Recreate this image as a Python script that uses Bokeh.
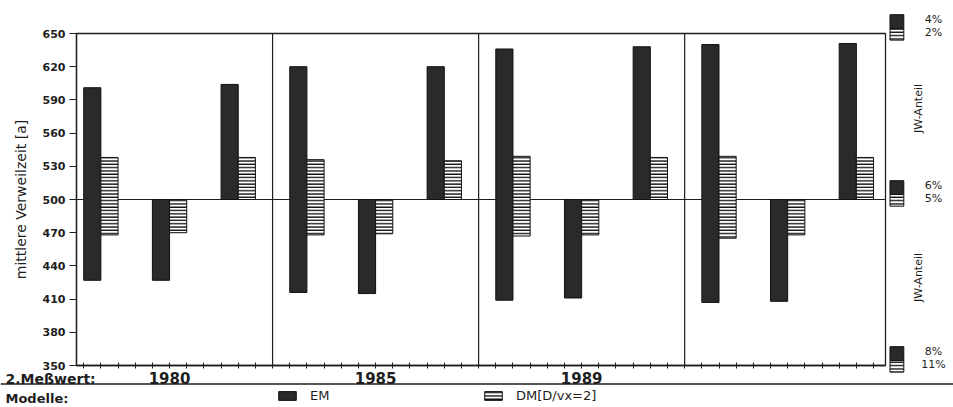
import math

from bokeh.plotting import figure
from bokeh.models import (ColumnDataSource, Range1d, FixedTicker, Span,
                          BoxAnnotation, Legend, LegendItem)
from bokeh.core.properties import value
from bokeh.embed import file_html
from bokeh.resources import INLINE

# Messzeitpunkte (Felder von links nach rechts); das letzte Feld bleibt unbeschriftet
years = ["1980", "1985", "1989"]

# Gruppe 1: Spanne je Modell (unteres / oberes Ende)
em_span_low = [427, 416, 409, 407]
em_span_high = [601, 620, 636, 640]
dm_span_low = [468, 468, 467, 465]
dm_span_high = [538, 536, 539, 539]

# Gruppe 2: Abweichung nach unten vom Bezugswert
em_low = [427, 415, 411, 408]
dm_low = [470, 469, 468, 468]

# Gruppe 3: Abweichung nach oben vom Bezugswert
em_high = [604, 620, 638, 641]
dm_high = [538, 535, 538, 538]

baseline = 500
y_ticks = [350, 380, 410, 440, 470, 500, 530, 560, 590, 620, 650]

# JW-Anteil je Niveau (EM / DM)
jw_levels = [650, 500, 350]
jw_em = ["4%", "6%", "8%"]
jw_dm = ["2%", "5%", "11%"]

# ---- Geometrie: Zeichenfläche = ganzes Bild, Achsen fest verankert -----
W, H = 953, 407
LEFT, RIGHT, TOP, BOTTOM = 76, 885, 33, 365   # Diagrammrahmen in Pixeln
PANEL = 12                                     # Feldbreite in Balkenbreiten
UNIT_PX = 17.17
X0 = 0.58
X1 = X0 + (RIGHT - LEFT) / UNIT_PX
Y0, Y1 = 350, 650
Y_PX = (BOTTOM - TOP) / (Y1 - Y0)

def px_x(px):
    return X0 + (px - LEFT) / UNIT_PX

def px_y(py):
    return Y1 - (py - TOP) / Y_PX

FONT = "DejaVu Sans"
INK = "#1e1e1e"
EM_FILL = "#2a2a2a"

p = figure(width=W, height=H, output_backend="svg", toolbar_location=None,
           x_range=Range1d(px_x(0), px_x(W)), y_range=Range1d(px_y(H), px_y(0)),
           min_border=0, min_border_left=0, min_border_right=0,
           min_border_top=0, min_border_bottom=0)
p.grid.visible = False
p.background_fill_color = "white"
p.border_fill_color = "white"
p.outline_line_color = None

# ---- Bezugslinie und Feldtrenner --------------------------------------
p.segment(x0=[X0], y0=[baseline], x1=[X1], y1=[baseline],
          line_color=INK, line_width=1.1)
dividers = [PANEL * k for k in range(1, 4)]
p.segment(x0=dividers, y0=[Y0] * 3, x1=dividers, y1=[Y1] * 3,
          line_color=INK, line_width=1.2)

# ---- Balken ------------------------------------------------------------
em_x, em_top, em_bot = [], [], []
dm_x, dm_top, dm_bot = [], [], []
for i in range(4):
    base = PANEL * i
    groups = [
        (1, em_span_high[i], em_span_low[i], dm_span_high[i], dm_span_low[i]),
        (5, baseline, em_low[i], baseline, dm_low[i]),
        (9, em_high[i], baseline, dm_high[i], baseline),
    ]
    for off, et, eb, dt, db in groups:
        em_x.append(base + off + 0.5)
        em_top.append(et)
        em_bot.append(eb)
        dm_x.append(base + off + 1.5)
        dm_top.append(dt)
        dm_bot.append(db)

em_src = ColumnDataSource(dict(x=em_x, top=em_top, bottom=em_bot))
dm_src = ColumnDataSource(dict(x=dm_x, top=dm_top, bottom=dm_bot))

hatch = dict(hatch_pattern="-", hatch_color="#111111", hatch_scale=3.3,
             hatch_weight=1.4)

em_r = p.vbar(x="x", top="top", bottom="bottom", width=1.0, source=em_src,
              fill_color=EM_FILL, line_color="#111111", line_width=1)
dm_r = p.vbar(x="x", top="top", bottom="bottom", width=1.0, source=dm_src,
              fill_color="white", line_color="#111111", line_width=1, **hatch)

# Rahmen (oben/rechts)
p.add_layout(BoxAnnotation(left=X0, right=X1, bottom=Y0, top=Y1,
                           fill_alpha=0, line_color=INK, line_alpha=1,
                           line_width=1.3))

# ---- Achsen ------------------------------------------------------------
ya = p.yaxis[0]
ya.fixed_location = X0
ya.bounds = (Y0, Y1)
ya.ticker = FixedTicker(ticks=y_ticks)
ya.minor_tick_line_color = None
ya.major_tick_in = 0
ya.major_tick_out = 7
ya.axis_line_width = 1.3
ya.axis_line_color = INK
ya.major_tick_line_color = INK
ya.major_label_text_font = FONT
ya.major_label_text_font_size = "11px"
ya.major_label_text_font_style = "bold"
ya.major_label_text_color = INK
ya.major_label_standoff = 4
ya.axis_label = "mittlere Verweilzeit [a]"
ya.axis_label_text_font = FONT
ya.axis_label_text_font_size = "14px"
ya.axis_label_text_font_style = "normal"
ya.axis_label_text_color = INK
ya.axis_label_standoff = 11

x_ticks = list(range(1, PANEL * 4))
overrides = {t: "" for t in x_ticks}
for i, yr in enumerate(years):
    overrides[PANEL * i + 6] = yr
xa = p.xaxis[0]
xa.fixed_location = Y0
xa.bounds = (X0, X1)
xa.ticker = FixedTicker(ticks=x_ticks)
xa.major_label_overrides = overrides
xa.minor_tick_line_color = None
xa.major_tick_in = 3
xa.major_tick_out = 3
xa.axis_line_width = 1.3
xa.axis_line_color = INK
xa.major_tick_line_color = INK
xa.major_label_text_font = FONT
xa.major_label_text_font_size = "15px"
xa.major_label_text_font_style = "bold"
xa.major_label_text_color = INK
xa.major_label_standoff = 3

# ---- Beschriftungen unten ----------------------------------------------
p.text(x=[px_x(5)], y=[px_y(378)], text=["2.Meßwert:"],
       text_font=value(FONT), text_font_size="14px", text_font_style="bold",
       text_color=INK, text_baseline="middle", text_align="left")
p.add_layout(Span(location=px_y(383.5), dimension="width",
                  line_color=INK, line_width=1.5))
p.text(x=[px_x(5)], y=[px_y(398)], text=["Modelle:"],
       text_font=value(FONT), text_font_size="13px", text_font_style="bold",
       text_color=INK, text_baseline="middle", text_align="left")

legend = Legend(items=[LegendItem(label="EM", renderers=[em_r]),
                       LegendItem(label="DM[D/vx=2]", renderers=[dm_r])],
                orientation="horizontal", location=(276, 4),
                glyph_width=22, glyph_height=11, label_height=11,
                label_standoff=12, label_width=160, spacing=12,
                padding=0, margin=0, border_line_color=None,
                background_fill_alpha=0,
                label_text_font=FONT, label_text_font_size="13px",
                label_text_color=INK)
p.add_layout(legend)

# ---- JW-Anteil am rechten Rand -----------------------------------------
bx_l, bx_r = px_x(889.5), px_x(903.3)
n = len(jw_levels)
p.quad(left=[bx_l] * n, right=[bx_r] * n,
       top=[v + 17 for v in jw_levels], bottom=[v + 4.5 for v in jw_levels],
       fill_color=EM_FILL, line_color="#111111")
p.quad(left=[bx_l] * n, right=[bx_r] * n,
       top=[v + 4.5 for v in jw_levels], bottom=[v - 6 for v in jw_levels],
       fill_color="white", line_color="#111111", **hatch)
p.text(x=[px_x(933)] * n, y=[v + 12.5 for v in jw_levels], text=jw_em,
       text_font=value(FONT), text_font_size="11px", text_color=INK,
       text_align="center", text_baseline="middle")
p.text(x=[px_x(933)] * n, y=[v + 0.5 for v in jw_levels], text=jw_dm,
       text_font=value(FONT), text_font_size="11px", text_color=INK,
       text_align="center", text_baseline="middle")
p.text(x=[px_x(918)] * 2, y=[px_y(108), px_y(277)], text=["JW-Anteil"] * 2,
       angle=math.pi / 2, text_font=value(FONT), text_font_size="11px",
       text_color=INK, text_align="center", text_baseline="middle")

open("out.html", "w").write(file_html(p, INLINE))
